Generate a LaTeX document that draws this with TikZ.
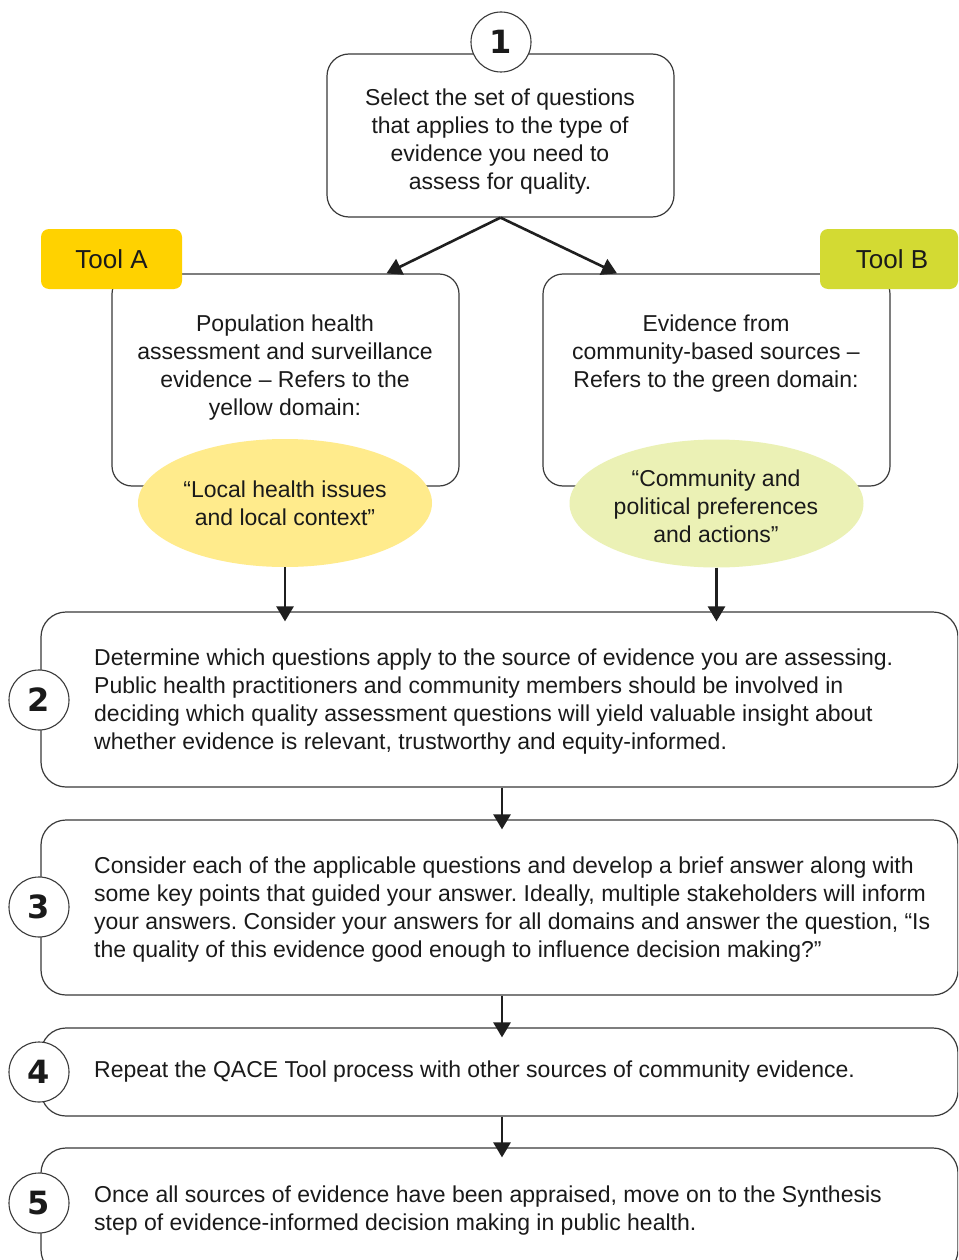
\documentclass[tikz,border=0pt]{standalone}
\usepackage{fontspec}
\setmainfont{Liberation Sans}
\newfontfamily\numfont{DejaVu Sans}
\usetikzlibrary{arrows.meta,shapes.geometric,calc}
\frenchspacing
\definecolor{lineg}{HTML}{3A3A3A}
\definecolor{txtc}{HTML}{1A1A1A}
\definecolor{toolAc}{HTML}{FFD200}
\definecolor{toolBc}{HTML}{D3DA33}
\definecolor{ellAc}{HTML}{FFEB8C}
\definecolor{ellBc}{HTML}{EBF1B5}
\begin{document}
\begin{tikzpicture}[x=1pt,y=-1pt,
  box/.style={draw=lineg, line width=1.2pt, rounded corners=20pt, fill=white, inner sep=0pt},
  bigbox/.style={box, rounded corners=25pt, minimum width=917pt},
  num/.style={circle, draw=lineg, line width=1.1pt, fill=white, minimum size=60pt, inner sep=0pt, text=txtc, font=\numfont\bfseries\fontsize{32}{32}\selectfont},
  txt/.style={inner sep=0pt, text=txtc, font=\frenchspacing\fontsize{23}{28}\selectfont},
  tool/.style={rounded corners=8pt, inner sep=0pt, minimum height=60pt, text=txtc, font=\fontsize{26}{28}\selectfont},
  domainell/.style={ellipse, inner sep=0pt, minimum width=294pt, minimum height=128pt},
  arr/.style={line width=2.6pt, draw=black!88, -{Triangle[length=15pt,width=17pt]}}
]
\useasboundingbox (0,0) rectangle (958,1260);
\fill[white] (0,0) rectangle (958,1260);
\clip (0,0) rectangle (958,1260);

% step 1
\node[box, rounded corners=22pt, minimum width=347pt, minimum height=163pt] (b1) at (500.5,135.5) {};
\node[txt, align=center] (t1) at (500,142) {Select the set of questions\\that applies to the type of\\evidence you need to\\assess for quality.};

% tool boxes
\node[box, minimum width=347pt, minimum height=212pt] (bA) at (285.5,380) {};
\node[box, minimum width=347pt, minimum height=212pt] (bB) at (716.5,380) {};
\node[txt, align=center] (tA) at (285,367.5) {Population health\\assessment and surveillance\\evidence – Refers to the\\yellow domain:};
\node[txt, align=center] (tB) at (716,354) {Evidence from\\community-based sources –\\Refers to the green domain:};

\node[domainell, fill=ellAc] (eA) at (285,503) {};
\node[domainell, fill=ellBc] (eB) at (716.5,503.5) {};
\node[txt, align=center] (teA) at (285,503.5) {“Local health issues\\and local context”};
\node[txt, align=center] (teB) at (716,506) {“Community and\\political preferences\\and actions”};

\node[tool, fill=toolAc, minimum width=141pt] (toolA) at (111.5,259) {Tool A};
\node[tool, fill=toolBc, minimum width=138pt] (toolB) at (889,259) {\hspace*{6pt}Tool B};

\draw[arr] (b1.south) -- ([xshift=101pt]bA.north);
\draw[arr] (b1.south) -- ([xshift=-99.5pt]bB.north);

% steps 2-5
\node[bigbox, minimum height=175pt] (b2) at (499.5,699.5) {};
\node[bigbox, minimum height=175pt] (b3) at (499.5,907.5) {};
\node[bigbox, minimum height=88pt] (b4) at (499.5,1072) {};
\node[bigbox, minimum height=127pt] (b5) at (499.5,1211.5) {};

\node[txt, align=left, anchor=west] (t2) at (94,701.5) {Determine which questions apply to the source of evidence you are assessing.\\Public health practitioners and community members should be involved in\\deciding which quality assessment questions will yield valuable insight about\\whether evidence is relevant, trustworthy and equity-informed.};
\node[txt, align=left, anchor=west] (t3) at (94,909.5) {Consider each of the applicable questions and develop a brief answer along with\\some key points that guided your answer. Ideally, multiple stakeholders will inform\\your answers. Consider your answers for all domains and answer the question, “Is\\the quality of this evidence good enough to influence decision making?”};
\node[txt, align=left, anchor=west] (t4) at (94,1072) {Repeat the QACE Tool process with other sources of community evidence.};
\node[txt, align=left, anchor=west] (t5) at (94,1210.5) {Once all sources of evidence have been appraised, move on to the Synthesis\\step of evidence-informed decision making in public health.};

\draw[arr] (eA.south) -- ([yshift=-10pt]eA.south |- b2.north);
\draw[arr] (eB.south) -- ([yshift=-10pt]eB.south |- b2.north);
\draw[arr] ([xshift=2.5pt]b2.south) -- ([xshift=2.5pt,yshift=-10pt]b3.north);
\draw[arr] ([xshift=2.5pt]b3.south) -- ([xshift=2.5pt,yshift=-10pt]b4.north);
\draw[arr] ([xshift=2.5pt]b4.south) -- ([xshift=2.5pt,yshift=-10pt]b5.north);

% number circles
\node[num] (c1) at (501,42) {1};
\node[num] (c2) at (39,700) {2};
\node[num] (c3) at (39,907) {3};
\node[num] (c4) at (39,1072) {4};
\node[num] (c5) at (39,1203) {5};
\end{tikzpicture}
\end{document}
